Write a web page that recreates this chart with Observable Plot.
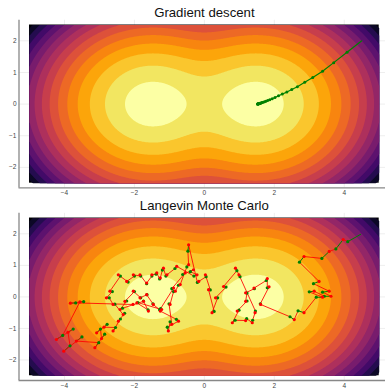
<!DOCTYPE html>
<html><head><meta charset="utf-8">
<script src="https://cdn.jsdelivr.net/npm/d3@7"></script>
<script src="https://cdn.jsdelivr.net/npm/@observablehq/plot@0.6"></script>
<style>
html,body{margin:0;padding:0;background:#fff;overflow:hidden;}
#wrap{position:relative;width:385px;height:388px;overflow:hidden;background:#fff;}
#wrap svg{position:absolute;left:0;}
</style></head><body><div id="wrap"></div>
<script>
// ---- data ----
const titles = ["Gradient descent", "Langevin Monte Carlo"];
const modes = [-1.5, 1.5];
const ySpread = 0.9;
// contour levels (log-density values), ascending
const levels = [-9.675, -9.0, -8.325, -7.65, -6.975, -6.3, -5.625, -4.95, -4.275, -3.6, -2.925, -2.25, -1.575, -0.9, -0.295];
const xTicks = [-4, -2, 0, 2, 4];
const yTicks = [-2, -1, 0, 1, 2];
const gdX = [4.50, 4.08, 3.70, 3.38, 3.10, 2.87, 2.66, 2.50, 2.36, 2.23, 2.12, 2.02, 1.94, 1.87, 1.81, 1.76, 1.72, 1.68, 1.65, 1.63, 1.61, 1.59, 1.58, 1.57, 1.56, 1.55, 1.54, 1.535, 1.53, 1.525, 1.52];
const gdY = [2.00, 1.64, 1.31, 1.04, 0.84, 0.69, 0.55, 0.46, 0.38, 0.32, 0.26, 0.21, 0.17, 0.14, 0.11, 0.09, 0.075, 0.06, 0.05, 0.04, 0.03, 0.025, 0.02, 0.016, 0.013, 0.01, 0.008, 0.006, 0.005, 0.004, 0.003];
const lmcX = [4.48, 4.10, 3.97, 3.76, 3.57, 3.36, 2.85, 2.72, 3.28, 3.12, 3.57, 3.38, 3.62, 3.43, 3.14, 3.00, 3.38, 3.20, 2.85, 2.68,
  2.57, 2.45, 1.61, 1.60, 1.85, 1.80, 1.80, 1.77, 1.42, 1.43, 1.18, 1.22, 1.18, 1.22, 0.94, 0.99, 0.80, 0.88, 1.18, 1.21,
  1.37, 1.38, 1.45, 1.46, 0.99, 1.02, 0.89, 0.93, 0.55, 0.62, 0.32, 0.38, 0.22, 0.28, 0.12, 0.17, 0.03, 0.05, -0.16, -0.20,
  -0.45, -0.47, -0.45, -0.50, -0.69, -0.74, -0.83, -0.88, -0.98, -1.01, -0.93, -0.98, -1.03, -1.06, -0.74, -0.80, -1.26, -1.28, -1.46, -1.47,
  -1.65, -1.64, -1.84, -1.82, -2.03, -2.00, -2.27, -2.22, -2.41, -2.34, -1.74, -1.74, -1.60, -1.61, -1.93, -1.90, -1.22, -1.25, -0.88, -0.93,
  -0.55, -0.62, -0.31, -0.40, -0.21, -0.30, -0.79, -0.84, -1.07, -1.10, -1.17, -1.20, -1.26, -1.28, -1.36, -1.38, -1.50, -1.50, -1.65, -1.65,
  -1.84, -1.82, -2.03, -2.00, -2.22, -2.18, -2.46, -2.40, -2.70, -2.63, -2.80, -2.72, -2.61, -2.56, -2.32, -2.28, -2.46, -2.40, -2.61, -2.54,
  -2.87, -2.78, -3.08, -2.97, -2.94, -2.85, -3.13, -3.02, -3.66, -3.50, -4.02, -3.84, -3.90, -3.75, -4.23, -4.05, -3.56, -3.45, -3.83, -3.68, -2.04];
const lmcY = [1.99, 1.75, 1.82, 1.52, 1.44, 1.22, 1.28, 1.10, 0.49, 0.42, 0.18, 0.15, 0.02, 0.02, 0.18, 0.16, -0.01, -0.01, -0.50, -0.44,
  -0.72, -0.63, -0.24, -0.22, 0.32, 0.29, 0.58, 0.52, 0.28, 0.26, 0.13, 0.12, -0.14, -0.13, -0.45, -0.42, -0.82, -0.74, -0.75, -0.69,
  -0.82, -0.74, -0.50, -0.45, 0.70, 0.64, 0.91, 0.83, 0.33, 0.31, -0.03, -0.03, -0.50, -0.46, 0.23, 0.22, 0.70, 0.64, 0.49, 0.46,
  1.65, 1.45, 1.02, 0.95, 0.39, 0.37, 0.18, 0.17, -0.24, -0.22, -0.87, -0.79, -1.08, -0.96, -0.77, -0.71, -0.45, -0.41, -0.24, -0.22,
  0.07, 0.07, -0.03, -0.03, 0.18, 0.17, -0.14, -0.13, -0.40, -0.36, -0.14, -0.13, -0.45, -0.41, -0.19, -0.18, -0.40, -0.37, 0.28, 0.26,
  0.76, 0.71, 0.86, 0.80, 0.70, 0.66, 0.97, 0.90, 0.70, 0.66, 0.91, 0.85, 0.60, 0.57, 0.76, 0.72, 0.70, 0.66, 0.44, 0.42,
  0.70, 0.66, 0.70, 0.66, 0.49, 0.47, 0.70, 0.66, 0.18, 0.17, -0.03, -0.03, -0.24, -0.23, -0.56, -0.52, -0.77, -0.70, -1.08, -0.97,
  -0.96, -0.87, -1.14, -1.02, -1.32, -1.18, -1.61, -1.45, -1.40, -1.27, -1.72, -1.55, -1.12, -1.02, -1.35, -1.22, -0.16, -0.15, -0.20, -0.19, -0.24];

// ---- build ----
const field = (x, y) => {
  const q = modes.map(m => (x - m) ** 2 + (y / ySpread) ** 2);
  return Math.log(Math.exp(-q[0] / 2) + Math.exp(-q[1] / 2));
};
const bandColors = d3.quantize(d3.interpolateInferno, levels.length + 1);
const fmt = d => d < 0 ? "\u2212" + Math.abs(d) : String(d);
const FONT = "'Liberation Sans', Arial, Helvetica, sans-serif";

function base(yRange, title, extra) {
  return Plot.plot({
    width: 385, height: 194,
    style: {background: "transparent", overflow: "visible", fontFamily: FONT},
    x: {domain: [-5.3, 5.3], range: [18.5, 389.2], axis: null},
    y: {domain: [-2.65, 2.65], range: yRange, axis: null},
    color: {type: "ordinal", domain: levels, range: bandColors.slice(1)},
    marks: [
      Plot.ruleX(xTicks, {y1: -2.65, y2: 2.65, stroke: "#000", strokeOpacity: 0.12, strokeWidth: 0.6}),
      Plot.ruleY(yTicks, {x1: -5.3, x2: 5.3, stroke: "#000", strokeOpacity: 0.12, strokeWidth: 0.6}),
      Plot.rect([0], {x1: -5, x2: 5, y1: -2.5, y2: 2.5, fill: bandColors[0]}),
      Plot.contour({x1: -5, x2: 5, y1: -2.5, y2: 2.5, fill: field, thresholds: levels, pixelSize: 1, stroke: "none"}),
      ...extra,
      Plot.ruleX([-5.3], {y1: -2.65, y2: 2.65, stroke: "#888", strokeWidth: 1.3}),
      Plot.ruleY([-2.65], {x1: -5.3, x2: 5.3, stroke: "#888", strokeWidth: 1.3}),
      Plot.text(xTicks, {x: d => d, y: -2.65, dy: 5, text: fmt, fontSize: 6.5, fill: "#444", lineAnchor: "middle"}),
      Plot.text(yTicks, {x: -5.3, y: d => d, dx: -2.5, text: fmt, fontSize: 6.5, fill: "#444", textAnchor: "end", lineAnchor: "middle"}),
      Plot.text([title], {x: 0, y: 2.65, dy: -3.6, text: d => d, fontSize: 13.2, fill: "#111", lineAnchor: "bottom"})
    ]
  });
}

const gd = gdX.map((x, i) => ({x, y: gdY[i]}));
const topPlot = base([187.45, 19.75], titles[0], [
  Plot.line(gd, {x: "x", y: "y", stroke: "green", strokeWidth: 1.2}),
  Plot.dot(gd.slice(1), {x: "x", y: "y", r: 1.5, fill: "green", stroke: "none"})
]);

const pts = lmcX.map((x, i) => ({x, y: lmcY[i], i}));
const segs = pts.slice(0, -1).map((p, i) => ({x1: p.x, y1: p.y, x2: pts[i + 1].x, y2: pts[i + 1].y, grad: i % 2 === 0}));
const bottomPlot = base([186.0, 18.8], titles[1], [
  Plot.link(segs.filter(s => s.grad), {x1: "x1", y1: "y1", x2: "x2", y2: "y2", stroke: "green", strokeWidth: 1}),
  Plot.link(segs.filter(s => !s.grad), {x1: "x1", y1: "y1", x2: "x2", y2: "y2", stroke: "red", strokeWidth: 1, strokeOpacity: 0.85}),
  Plot.dot(pts.filter(p => p.i > 0 && p.i % 2 === 1), {x: "x", y: "y", r: 1.6, fill: "green", stroke: "none"}),
  Plot.dot(pts.filter(p => p.i > 0 && p.i % 2 === 0), {x: "x", y: "y", r: 1.6, fill: "red", stroke: "none"})
]);

const wrap = document.getElementById("wrap");
topPlot.style.top = "0px";
bottomPlot.style.top = "194px";
wrap.appendChild(topPlot);
wrap.appendChild(bottomPlot);
</script>
</body></html>
